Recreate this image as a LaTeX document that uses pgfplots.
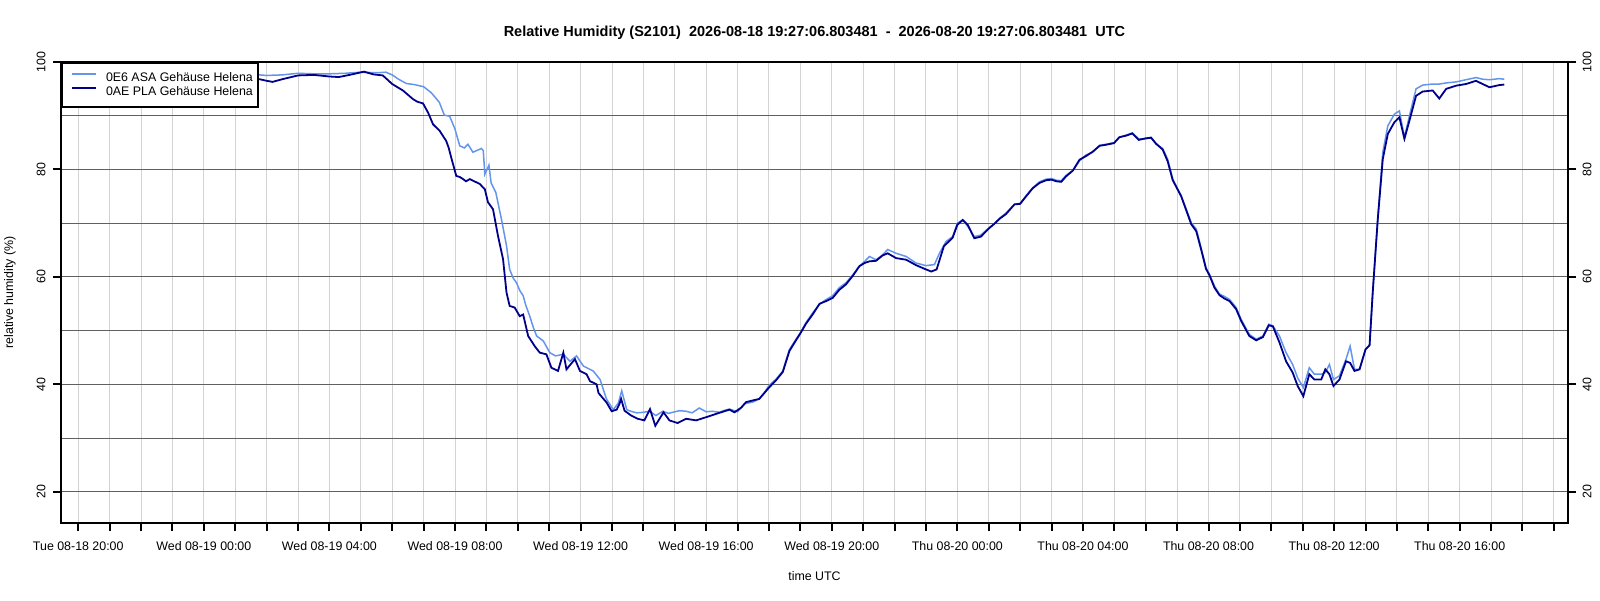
\documentclass[border=0pt]{standalone}
\usepackage{fontspec}
\setmainfont{Liberation Sans}
\usepackage{pgfplots}
\usepackage{pgfplotstable}
\pgfplotsset{compat=1.18}
\definecolor{asa}{HTML}{6495ED}
\definecolor{pla}{HTML}{00008B}
\definecolor{vgrid}{HTML}{D3D3D3}
\definecolor{hgrid}{HTML}{606060}

\pgfplotstableread{
h v
-0.55 97.2
0.0 97.3
0.5 97.2
1.0 97.4
1.5 97.3
2.0 97.2
2.5 97.4
3.0 97.5
3.5 97.4
4.0 97.4
4.5 97.5
5.0 97.5
5.5 97.6
5.77 97.6
6.0 97.5
6.5 97.6
7.0 97.9
7.5 97.8
8.0 97.8
8.5 97.9
9.0 98.1
9.5 98.0
9.8 98.1
10.0 97.6
10.2 96.8
10.45 96.0
10.7 95.8
11.0 95.4
11.24 94.3
11.5 92.5
11.66 90.1
11.83 89.9
12.0 87.5
12.15 84.4
12.3 84.0
12.41 84.7
12.57 83.2
12.84 83.9
12.9 83.5
12.95 79.1
13.08 80.8
13.15 77.5
13.3 75.7
13.48 70.7
13.64 65.8
13.74 61.4
13.85 59.8
13.96 58.9
14.06 57.5
14.17 56.5
14.25 54.8
14.38 52.7
14.5 50.5
14.6 49.0
14.81 48.1
15.02 45.9
15.2 45.3
15.45 45.6
15.66 44.3
15.87 45.3
16.09 43.4
16.4 42.5
16.62 40.9
16.83 37.2
17.04 35.3
17.2 36.5
17.31 38.8
17.47 35.3
17.6 35.0
17.79 34.7
18.0 34.8
18.19 35.0
18.4 34.2
18.62 35.0
18.8 34.6
18.93 34.8
19.15 35.1
19.36 35.0
19.55 34.7
19.78 35.6
20.0 34.9
20.2 35.0
20.42 34.8
20.6 35.2
20.74 35.4
21.0 34.9
21.22 36.4
21.48 36.7
21.69 37.3
21.85 38.4
22.0 39.8
22.23 41.0
22.44 42.5
22.65 46.5
22.86 48.4
23.0 49.6
23.18 51.5
23.39 53.3
23.61 54.9
23.82 55.8
24.03 56.5
24.24 58.0
24.45 58.9
24.67 60.4
24.88 62.0
25.05 62.9
25.2 63.8
25.41 63.2
25.62 64.1
25.78 65.1
26.05 64.4
26.37 63.8
26.68 62.6
27.0 62.1
27.27 62.3
27.43 64.4
27.64 66.6
27.85 67.5
28.0 70.0
28.17 70.6
28.33 69.4
28.54 67.5
28.75 67.8
29.0 69.1
29.2 70.0
29.34 70.9
29.55 71.9
29.82 73.5
30.0 73.7
30.19 75.1
30.4 76.6
30.62 77.7
30.83 78.2
31.0 78.3
31.15 78.0
31.31 77.9
31.46 78.9
31.68 79.8
31.89 81.6
32.1 82.7
32.31 83.2
32.53 84.5
32.74 84.7
32.99 85.0
33.16 86.0
33.38 86.4
33.57 86.8
33.78 85.7
34.0 85.7
34.17 86.0
34.33 84.7
34.54 83.9
34.7 81.9
34.86 78.2
35.13 75.1
35.29 72.6
35.45 70.1
35.61 68.9
35.76 65.5
35.92 61.7
36.03 60.5
36.19 58.3
36.35 56.8
36.5 56.4
36.67 55.8
36.88 54.3
37.04 52.1
37.3 49.3
37.52 48.4
37.73 49.0
37.92 51.2
38.05 50.9
38.26 49.0
38.47 45.9
38.68 43.7
38.84 41.2
39.02 39.4
39.21 43.1
39.37 41.9
39.59 41.9
39.72 42.2
39.85 43.7
39.98 40.9
40.17 41.6
40.38 44.7
40.51 47.1
40.65 42.8
40.81 42.8
41.0 46.5
41.13 47.3
41.23 57.1
41.39 70.7
41.55 83.2
41.71 88.1
41.92 90.3
42.08 90.9
42.24 86.0
42.4 90.0
42.61 95.0
42.82 95.7
43.14 95.9
43.35 95.9
43.57 96.1
43.89 96.3
44.2 96.7
44.52 97.1
44.73 96.8
44.95 96.7
45.26 96.9
45.42 96.8
}\asadata

\pgfplotstableread{
h v
-0.55 96.7
0.0 96.9
0.5 96.8
1.0 96.9
1.5 96.6
2.0 96.7
2.5 96.9
3.0 97.0
3.5 96.8
4.0 96.8
4.5 97.0
5.0 96.9
5.5 96.8
5.77 96.8
6.0 96.5
6.19 96.3
6.5 96.8
7.0 97.5
7.5 97.6
8.0 97.3
8.3 97.2
8.64 97.6
9.1 98.2
9.4 97.7
9.7 97.5
10.0 95.9
10.34 94.7
10.66 93.1
10.8 92.6
10.98 92.3
11.14 90.6
11.3 88.4
11.51 87.2
11.72 85.3
11.8 84.0
11.88 82.2
12.04 78.8
12.15 78.6
12.26 78.2
12.35 77.8
12.47 78.2
12.79 77.3
12.95 76.3
13.05 73.9
13.21 72.6
13.37 67.6
13.53 63.3
13.64 57.1
13.74 54.6
13.9 54.3
14.06 52.7
14.17 53.0
14.33 49.0
14.54 47.1
14.7 45.9
14.91 45.6
15.07 43.1
15.28 42.5
15.45 45.9
15.55 42.8
15.82 44.7
15.98 42.5
16.19 41.9
16.3 40.6
16.51 40.0
16.57 38.4
16.83 36.6
16.99 35.0
17.15 35.3
17.24 36.4
17.29 37.3
17.4 35.1
17.61 34.2
17.82 33.6
18.03 33.3
18.21 35.4
18.38 32.3
18.64 34.8
18.83 33.3
19.09 32.8
19.36 33.6
19.68 33.3
20.0 33.9
20.31 34.5
20.74 35.3
20.9 34.8
21.12 35.7
21.27 36.7
21.69 37.3
22.0 39.4
22.23 40.8
22.44 42.3
22.65 46.2
22.86 48.2
23.0 49.5
23.18 51.3
23.39 53.0
23.61 55.0
23.82 55.5
24.03 56.1
24.24 57.6
24.45 58.6
24.67 60.2
24.88 62.0
25.05 62.6
25.2 62.9
25.41 63.0
25.62 64.0
25.78 64.4
26.05 63.5
26.37 63.2
26.68 62.2
27.0 61.4
27.17 61.0
27.34 61.4
27.57 65.7
27.85 67.3
28.0 69.7
28.17 70.6
28.33 69.7
28.54 67.2
28.75 67.5
29.0 69.0
29.2 70.0
29.34 70.8
29.55 71.7
29.82 73.5
30.0 73.6
30.19 75.0
30.4 76.5
30.62 77.5
30.83 78.0
31.0 78.1
31.15 77.8
31.31 77.7
31.46 78.7
31.68 79.8
31.89 81.8
32.1 82.5
32.31 83.3
32.53 84.4
32.74 84.6
32.99 84.9
33.16 86.0
33.38 86.3
33.57 86.7
33.78 85.5
34.0 85.8
34.17 85.9
34.33 84.8
34.54 83.7
34.7 81.5
34.86 78.0
35.13 75.0
35.29 72.4
35.45 69.8
35.61 68.5
35.76 65.2
35.92 61.5
36.03 60.3
36.19 58.0
36.35 56.6
36.5 56.0
36.67 55.5
36.88 54.0
37.04 51.8
37.3 49.0
37.52 48.2
37.73 48.8
37.92 51.0
38.05 50.8
38.26 47.8
38.47 44.3
38.68 42.2
38.84 39.7
39.02 37.8
39.21 41.9
39.37 40.9
39.59 40.9
39.72 42.8
39.85 41.9
39.98 39.7
40.17 40.9
40.38 44.3
40.51 44.0
40.65 42.5
40.81 42.8
41.0 46.5
41.13 47.3
41.23 57.1
41.39 70.7
41.55 81.9
41.71 86.6
41.92 88.8
42.08 89.7
42.24 85.7
42.4 89.1
42.61 93.7
42.82 94.5
43.14 94.7
43.35 93.2
43.57 95.0
43.89 95.6
44.2 95.9
44.52 96.5
44.73 95.9
44.95 95.3
45.26 95.7
45.42 95.8
}\pladata

\newcommand{\sz}{\fontsize{6.2}{7}\selectfont}

\begin{document}
\begin{tikzpicture}
\useasboundingbox (-30.5pt,-38.5pt) rectangle (769.5pt,261.5pt);
\pgfplotsset{
  base/.style={
    at={(0pt,0pt)}, anchor=south west,
    scale only axis, width=753.5pt, height=230.5pt,
    xmin=-0.55, xmax=47.45, ymin=14.2, ymax=100,
    axis line style={line width=1.2pt},
    tick align=outside,
    major tick length=4pt,
    minor tick length=0pt,
    tick style={line width=1pt, black},
    /pgf/number format/assume math mode=true,
    ytick={20,40,60,80,100},
  }
}
\begin{axis}[
  base,
  xtick pos=left, ytick pos=both,
  xtick={0,...,47},
  xticklabels={Tue 08-18 20:00,,,,Wed 08-19 00:00,,,,Wed 08-19 04:00,,,,Wed 08-19 08:00,,,,Wed 08-19 12:00,,,,Wed 08-19 16:00,,,,Wed 08-19 20:00,,,,Thu 08-20 00:00,,,,Thu 08-20 04:00,,,,Thu 08-20 08:00,,,,Thu 08-20 12:00,,,,Thu 08-20 16:00,,,},
  xticklabel style={font=\sz, anchor=center, yshift=-7.5pt},
  yticklabel style={font=\sz, anchor=center, xshift=-6pt, rotate=90},
  minor ytick={20,30,...,90},
  xmajorgrids, yminorgrids,
  major grid style={vgrid, line width=0.5pt},
  minor grid style={hgrid, line width=0.5pt},
  legend style={at={(0,1)}, anchor=north west, draw=black, line width=1.2pt,
    fill=white, font=\sz, inner xsep=2pt, inner ysep=4pt, row sep=0pt,
    column sep=4pt,
    nodes={inner sep=0.5pt, text height=4.5pt, text depth=1.5pt}},
  legend cell align=left,
  legend image code/.code={\path (0pt,0pt); \draw[#1] (2.5pt,2pt) -- (14.5pt,2pt);},
]
\addplot[asa, line width=0.75pt] table[x=h, y=v] {\asadata};
\addlegendentry{0E6 ASA Gehäuse Helena}
\addplot[pla, line width=0.9pt] table[x=h, y=v] {\pladata};
\addlegendentry{0AE PLA Gehäuse Helena}
\end{axis}
\begin{axis}[
  base,
  hide x axis,
  ytick pos=right, yticklabel pos=right,
  yticklabel style={font=\sz, anchor=center, xshift=5.5pt, rotate=90},
]
\end{axis}
\node[font=\bfseries\fontsize{7.25}{8}\selectfont] at (376.75pt,245pt) {Relative Humidity (S2101)\ \ 2026-08-18 19:27:06.803481\ \ -\ \ 2026-08-20 19:27:06.803481\ \ UTC};
\node[font=\sz, rotate=90] at (-25.5pt,115.25pt) {relative humidity (\%)};
\node[font=\sz] at (376.75pt,-26.5pt) {time UTC};
\end{tikzpicture}
\end{document}
